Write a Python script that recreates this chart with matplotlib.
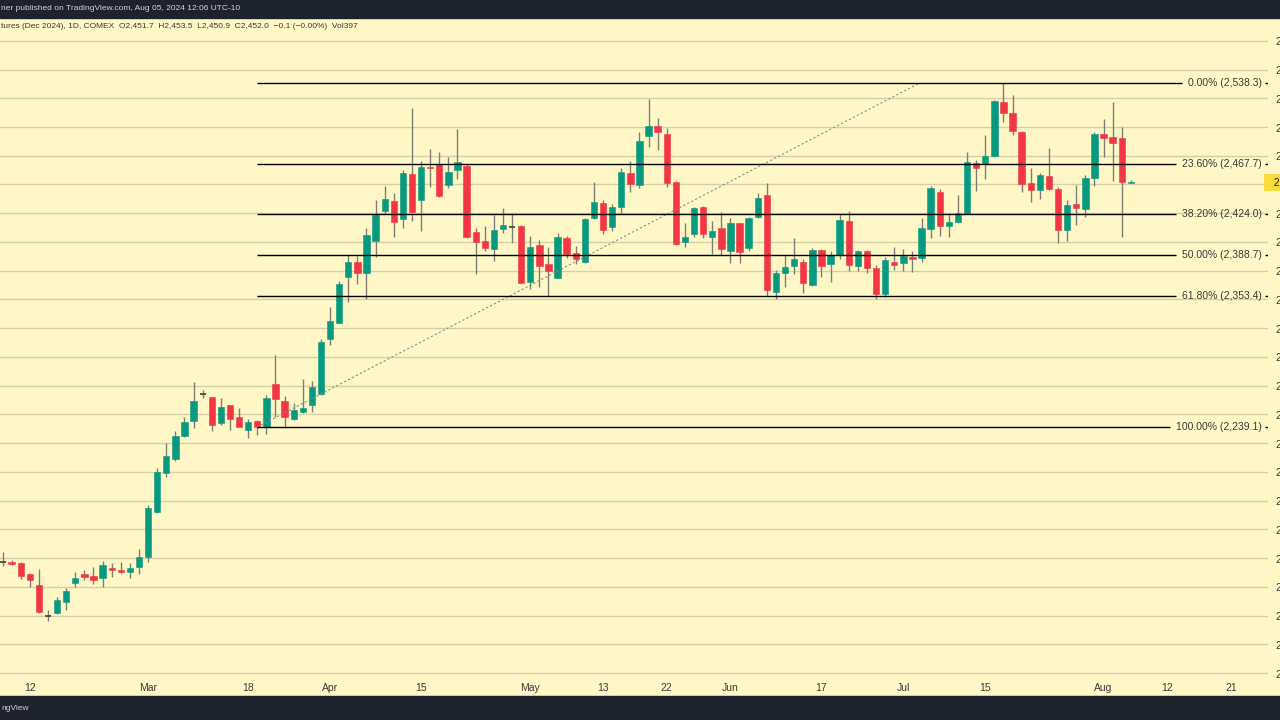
import matplotlib
matplotlib.use("Agg")
import matplotlib.pyplot as plt
from matplotlib.patches import Rectangle
from matplotlib.transforms import blended_transform_factory
import pandas as pd

# ---------------- data ----------------
holidays = ["2024-02-19", "2024-03-29", "2024-05-27", "2024-06-19", "2024-07-04", "2024-09-02"]
all_days = [d.strftime("%Y-%m-%d") for d in pd.bdate_range("2024-02-07", "2024-08-30")]
trade_days = [d for d in all_days if d not in holidays]

opens = [2121.9, 2121.9, 2120.5, 2111.0, 2101.7, 2075.0, 2077.0, 2087.1, 2103.2, 2111.0,
         2109.5, 2108.0, 2116.5, 2114.7, 2113.2, 2117.1, 2125.8, 2165.4, 2198.8, 2211.0,
         2231.3, 2244.3, 2267.5, 2264.9, 2242.8, 2258.2, 2248.1, 2236.5, 2244.3, 2238.8,
         2276.2, 2262.0, 2246.1, 2252.4, 2258.2, 2267.8, 2315.6, 2329.8, 2369.3, 2382.4,
         2372.8, 2401.1, 2427.2, 2435.7, 2420.0, 2459.2, 2436.5, 2465.5, 2467.9, 2449.6,
         2462.6, 2466.1, 2409.0, 2400.9, 2393.7, 2411.0, 2413.3, 2414.1, 2365.0, 2397.4,
         2380.6, 2369.0, 2403.2, 2390.2, 2382.6, 2420.6, 2434.2, 2413.3, 2430.7, 2459.8,
         2449.6, 2492.2, 2500.9, 2494.0, 2452.5, 2400.3, 2407.0, 2430.2, 2404.6, 2411.9,
         2391.8, 2416.3, 2394.4, 2421.5, 2440.9, 2356.8, 2373.3, 2379.1, 2382.4, 2362.6,
         2393.1, 2380.9, 2388.7, 2418.5, 2379.1, 2391.8, 2377.3, 2355.0, 2382.9, 2381.5,
         2387.2, 2385.8, 2411.1, 2443.8, 2414.2, 2417.7, 2424.6, 2468.7, 2467.9, 2474.8,
         2522.0, 2511.8, 2496.0, 2451.1, 2445.2, 2457.4, 2445.9, 2410.0, 2433.1, 2428.7,
         2455.4, 2493.7, 2491.0, 2490.2, 2451.7]
highs = [2130.6, 2123.4, 2121.7, 2112.1, 2115.6, 2080.0, 2091.2, 2098.8, 2113.2, 2114.7,
         2117.1, 2122.8, 2121.1, 2121.4, 2120.5, 2133.0, 2171.3, 2203.2, 2224.9, 2235.9,
         2248.1, 2278.5, 2271.3, 2265.5, 2264.1, 2258.5, 2255.3, 2245.8, 2244.8, 2267.0,
         2301.7, 2266.1, 2260.2, 2280.6, 2279.1, 2315.4, 2343.7, 2366.0, 2388.7, 2388.1,
         2411.9, 2436.5, 2449.0, 2442.4, 2462.6, 2516.3, 2470.5, 2480.6, 2478.5, 2474.2,
         2498.0, 2467.9, 2411.9, 2414.1, 2423.5, 2429.3, 2424.9, 2414.5, 2405.5, 2401.8,
         2395.9, 2408.1, 2405.5, 2396.8, 2420.6, 2452.5, 2436.5, 2433.1, 2464.1, 2470.7,
         2496.0, 2524.1, 2507.6, 2498.9, 2453.4, 2416.8, 2430.2, 2431.3, 2418.3, 2426.4,
         2421.2, 2416.5, 2421.5, 2442.4, 2451.6, 2375.7, 2388.7, 2403.2, 2385.0, 2394.5,
         2393.5, 2391.8, 2424.6, 2427.0, 2393.1, 2393.1, 2380.0, 2386.7, 2395.9, 2393.7,
         2392.2, 2420.6, 2448.7, 2445.9, 2425.5, 2440.9, 2478.5, 2471.5, 2493.1, 2523.5,
         2538.3, 2527.9, 2496.5, 2464.2, 2460.3, 2481.5, 2447.6, 2436.5, 2449.6, 2458.3,
         2496.0, 2506.7, 2522.0, 2500.3, 2453.5]
lows = [2118.2, 2119.0, 2106.6, 2099.7, 2077.6, 2070.6, 2076.2, 2080.0, 2099.7, 2106.0,
        2102.5, 2099.7, 2108.4, 2112.5, 2107.5, 2111.0, 2121.4, 2164.0, 2195.9, 2209.8,
        2230.1, 2238.0, 2264.1, 2235.9, 2240.8, 2236.5, 2239.0, 2229.3, 2232.0, 2233.0,
        2248.1, 2238.0, 2245.2, 2251.3, 2252.4, 2266.9, 2310.4, 2329.3, 2348.1, 2363.2,
        2350.2, 2387.2, 2424.6, 2404.6, 2411.9, 2418.3, 2409.8, 2447.6, 2439.5, 2446.7,
        2454.5, 2403.5, 2371.9, 2391.8, 2383.7, 2407.6, 2399.4, 2364.4, 2359.1, 2361.1,
        2353.0, 2368.4, 2385.8, 2380.9, 2382.0, 2419.7, 2407.0, 2409.6, 2425.5, 2443.8,
        2446.7, 2482.4, 2480.0, 2448.1, 2397.4, 2395.4, 2404.6, 2403.2, 2389.6, 2388.7,
        2381.5, 2381.5, 2391.8, 2420.6, 2352.6, 2350.2, 2360.6, 2372.2, 2356.0, 2361.8,
        2369.8, 2365.5, 2385.0, 2375.0, 2375.0, 2372.8, 2350.2, 2351.9, 2375.7, 2375.0,
        2374.2, 2382.9, 2403.2, 2405.2, 2404.1, 2416.3, 2424.1, 2444.5, 2454.5, 2473.7,
        2504.6, 2493.1, 2443.8, 2435.1, 2437.2, 2445.2, 2398.9, 2400.9, 2414.8, 2421.5,
        2448.7, 2473.7, 2453.3, 2404.1, 2450.9]
closes = [2121.9, 2119.7, 2109.8, 2106.0, 2078.4, 2075.0, 2088.6, 2096.7, 2108.0, 2108.9,
          2106.0, 2119.1, 2115.0, 2113.0, 2116.2, 2126.3, 2168.6, 2200.2, 2213.9, 2231.3,
          2243.2, 2261.7, 2267.5, 2240.8, 2256.7, 2245.8, 2239.4, 2243.2, 2239.1, 2264.1,
          2263.2, 2247.5, 2253.9, 2255.3, 2274.1, 2313.3, 2331.5, 2363.5, 2382.4, 2372.8,
          2406.1, 2423.5, 2437.2, 2417.7, 2459.8, 2426.4, 2465.5, 2464.6, 2440.0, 2461.2,
          2469.9, 2404.6, 2399.7, 2394.7, 2410.4, 2414.8, 2413.3, 2364.6, 2395.4, 2379.1,
          2375.0, 2404.1, 2389.6, 2385.0, 2419.7, 2435.1, 2410.8, 2430.7, 2461.2, 2450.2,
          2487.9, 2500.9, 2496.0, 2451.6, 2398.3, 2404.6, 2429.3, 2406.7, 2409.6, 2393.7,
          2416.3, 2391.3, 2421.2, 2438.5, 2358.4, 2372.8, 2378.0, 2385.2, 2364.6, 2393.1,
          2379.4, 2388.7, 2419.1, 2380.0, 2392.5, 2377.0, 2355.0, 2384.4, 2380.0, 2387.8,
          2385.0, 2411.9, 2446.7, 2414.2, 2417.7, 2425.0, 2469.5, 2464.6, 2474.8, 2522.6,
          2512.5, 2496.5, 2450.2, 2445.2, 2458.3, 2445.9, 2410.0, 2432.2, 2429.3, 2455.9,
          2493.7, 2490.7, 2485.8, 2452.1, 2452.0]

tick_dates = ["2024-02-12", "2024-03-01", "2024-03-18", "2024-04-01", "2024-04-15",
              "2024-05-01", "2024-05-13", "2024-05-22", "2024-06-03", "2024-06-17",
              "2024-07-01", "2024-07-15", "2024-08-01", "2024-08-12", "2024-08-21"]
tick_labels = ["12", "Mar", "18", "Apr", "15", "May", "13", "22", "Jun", "17",
               "Jul", "15", "Aug", "12", "21"]

price_ticks = list(range(2025, 2600, 25))

fib_high = 2538.3
fib_low = 2239.1
fib_levels = [0.0, 0.236, 0.382, 0.5, 0.618, 1.0]
fib_start_date = "2024-03-19"
fib_end_date = "2024-07-03"

last_price = 2452.0
header_top = "ner published on TradingView.com, Aug 05, 2024 12:06 UTC-10"
header_sym = ("tures (Dec 2024), 1D, COMEX  O2,451.7  H2,453.5  L2,450.9  "
              "C2,452.0  \u22120.1 (\u22120.00%)  Vol397")
footer_text = "ngView"

# ---------------- style ----------------
BG = "#FFF8C6"
GRID = "#D6D0A8"
UP = "#089981"
DOWN = "#F23645"
WICK = "#7E7E78"
DARK = "#1E222D"
TXT = "#3A3A3A"
plt.rcParams["font.family"] = ["Liberation Sans", "DejaVu Sans"]

W, H = 1280, 720
fig = plt.figure(figsize=(12.8, 7.2), dpi=100, facecolor=BG)
ax_left, ax_right, ax_top, ax_bot = 0, 1268, 18, 678
ax = fig.add_axes([ax_left / W, (H - ax_bot) / H, (ax_right - ax_left) / W, (ax_bot - ax_top) / H])
ax.set_facecolor(BG)
for s in ax.spines.values():
    s.set_visible(False)

idx = {d: i for i, d in enumerate(trade_days)}
n = len(opens)
xs = list(range(n))

ax.set_xlim(-0.275, 139.07)
ax.set_ylim(2020.8, 2594.8)

# grid + price scale (the label nearest the last price is covered by the price tag)
ax.set_yticks(price_ticks)
ax.yaxis.grid(True, color=GRID, lw=1.0, zorder=0)
ax.set_axisbelow(True)
ax.yaxis.tick_right()
ax.tick_params(axis="y", length=0, pad=5, labelsize=7.5, labelcolor=TXT)
ax.set_yticklabels(["" if abs(p - last_price) < 12.5 else f"{p:,.1f}" for p in price_ticks])

ax.set_xticks([idx[d] for d in tick_dates])
ax.set_xticklabels(tick_labels)
ax.tick_params(axis="x", length=0, pad=3.5, labelsize=7.5, labelcolor=TXT)

# candles
ax.vlines(xs, lows, highs, color=WICK, lw=1.0, zorder=3)
body_w = 0.7
for i in xs:
    o, c = opens[i], closes[i]
    if abs(c - o) < 0.05:
        ax.hlines(o, i - body_w / 2, i + body_w / 2, color="#4a4a4a", lw=1.3, zorder=4)
        continue
    col = UP if c > o else DOWN
    bottom = min(o, c)
    height = max(abs(c - o), 0.9)
    ax.bar(i, height, bottom=bottom, width=body_w, color=col, edgecolor=col,
           lw=0.4, zorder=4)

# fib trend line
x0, x1 = idx[fib_start_date], idx[fib_end_date]
ax.plot([x0, x1 - 0.2], [fib_low, fib_high], ls=(0, (2, 2)), color="#8C8C8C", lw=0.8, zorder=5)

# fib labels + lines
trans = blended_transform_factory(ax.transAxes, ax.transData)
fib_prices = [fib_high - lv * (fib_high - fib_low) for lv in fib_levels]
labels = []
for lv, pr in zip(fib_levels, fib_prices):
    t = ax.text(1262 / 1268, pr, f"{lv * 100:.2f}% ({pr:,.1f})", transform=trans,
                ha="right", va="center", fontsize=7.5, color=TXT, zorder=6)
    labels.append(t)

fig.canvas.draw()
r = fig.canvas.get_renderer()
inv = ax.transData.inverted()
for t, pr in zip(labels, fib_prices):
    bb = t.get_window_extent(r)
    xl = inv.transform((bb.x0 - 6, 0))[0]
    xr = inv.transform((bb.x1 + 3, 0))[0]
    ax.plot([x0, xl], [pr, pr], color="black", lw=1.0, zorder=5, solid_capstyle="butt")
    ax.plot([xr, ax.get_xlim()[1]], [pr, pr], color="black", lw=1.0, zorder=5,
            solid_capstyle="butt")

# current price tag on the price scale
ax.text(1.0, last_price, f"  {last_price:,.1f}", transform=trans, ha="left", va="center",
        fontsize=7.5, color="#222222", zorder=7, clip_on=False,
        bbox=dict(boxstyle="square,pad=0.35", fc="#FADB3C", ec="none"))

# top / bottom bars
fig.patches.append(Rectangle((0, (H - 18) / H), 1, 18 / H, transform=fig.transFigure,
                             color=DARK, zorder=0))
fig.patches.append(Rectangle((0, 0), 1, 24 / H, transform=fig.transFigure,
                             color=DARK, zorder=0))
fig.text(1 / W, 1 - 9 / H, header_top, ha="left", va="center", fontsize=6.0,
         color="#D1D4DC")
fig.text(1 / W, 1 - 27 / H, header_sym, ha="left", va="center", fontsize=6.0, color=TXT)
fig.text(1 / W, 12 / H, footer_text, ha="left", va="center", fontsize=6.0, color="#D1D4DC")

fig.savefig("out.png", dpi=100, facecolor=BG)
